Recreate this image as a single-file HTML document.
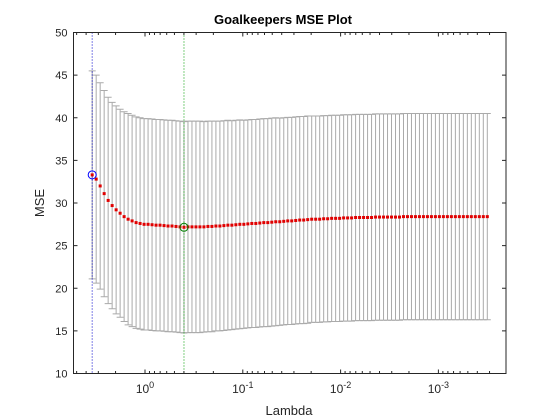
<!DOCTYPE html>
<html><head><meta charset="utf-8"><style>
body{margin:0;background:#fff}
svg{display:block;font-family:"Liberation Sans",sans-serif}
</style></head><body>
<svg id="chart" width="560" height="420" viewBox="0 0 560 420">
<rect x="0" y="0" width="560" height="420" fill="#fff"/>
<rect x="73.5" y="32.5" width="432.5" height="341" fill="#fff" stroke="none"/>
<g id="bars"></g>
<g id="vlines"></g>
<g id="pts"></g>
<g id="axes"></g>
<text x="283" y="24" text-anchor="middle" font-size="13" font-weight="bold" fill="#000">Goalkeepers MSE Plot</text>
<text x="289" y="415" text-anchor="middle" font-size="13" fill="#262626">Lambda</text>
<text x="44" y="203" text-anchor="middle" font-size="13" fill="#262626" transform="rotate(-90 44 203)">MSE</text>
</svg>
<script>
const lambdaMaxLog = 0.54;
const lambdaMinLog = -3.5;
const mse = [
33.3,32.8,32.0,31.1,30.3,29.7,29.2,28.8,28.4,28.1,
27.9,27.7,27.6,27.5,27.5,27.45,27.4,27.4,27.35,27.3,
27.3,27.25,27.2,27.15,27.2,27.2,27.2,27.2,27.2,27.25,
27.25,27.3,27.3,27.35,27.4,27.4,27.45,27.5,27.5,27.55,
27.6,27.6,27.65,27.7,27.7,27.75,27.8,27.8,27.85,27.9,
27.9,27.95,28.0,28.0,28.05,28.1,28.1,28.1,28.15,28.15,
28.2,28.2,28.2,28.25,28.25,28.25,28.3,28.3,28.3,28.3,
28.3,28.35,28.35,28.35,28.35,28.35,28.35,28.35,28.4,28.4,
28.4,28.4,28.4,28.4,28.4,28.4,28.4,28.4,28.4,28.4,
28.4,28.4,28.4,28.4,28.4,28.4,28.4,28.4,28.4,28.4];
const se = [
12.2,12.2,12.1,12.1,12.1,12.1,12.2,12.2,12.3,12.4,
12.4,12.4,12.4,12.4,12.4,12.4,12.4,12.4,12.4,12.4,
12.4,12.4,12.4,12.4,12.4,12.4,12.4,12.4,12.35,12.35,
12.35,12.3,12.3,12.3,12.3,12.25,12.25,12.25,12.2,12.2,
12.2,12.2,12.2,12.2,12.2,12.2,12.2,12.15,12.15,12.15,
12.15,12.15,12.15,12.15,12.15,12.1,12.1,12.1,12.1,12.1,
12.1,12.1,12.1,12.1,12.1,12.1,12.1,12.1,12.1,12.1,
12.1,12.1,12.1,12.1,12.1,12.1,12.1,12.1,12.1,12.1,
12.1,12.1,12.1,12.1,12.1,12.1,12.1,12.1,12.1,12.1,
12.1,12.1,12.1,12.1,12.1,12.1,12.1,12.1,12.1,12.1];
const yTicks = [10,15,20,25,30,35,40,45,50];
const xTickExps = [0,-1,-2,-3];
const xTickLabels = ["0","-1","-2","-3"];

const NS="http://www.w3.org/2000/svg";
const L=73.5,R=506,T=32.5,B=373.5;
const ys=v=>B-(v-10)*(B-T)/40;
const xs=lg=>145-lg*97.8;
const n=mse.length;
const lgAt=i=>lambdaMaxLog-(lambdaMaxLog-lambdaMinLog)*i/(n-1);
function mk(tag,attrs,parent){const e=document.createElementNS(NS,tag);for(const k in attrs)e.setAttribute(k,attrs[k]);parent.appendChild(e);return e;}
const bars=document.getElementById('bars'),pts=document.getElementById('pts'),axes=document.getElementById('axes'),vl=document.getElementById('vlines');
let minI=0;for(let i=0;i<n;i++)if(mse[i]<mse[minI])minI=i;
for(let i=0;i<n;i++){
  const x=xs(lgAt(i)),y1=ys(mse[i]+se[i]),y2=ys(mse[i]-se[i]);
  const p=mk('path',{d:`M${x},${y1}V${y2}M${x-3.5},${y1}H${x+3.5}M${x-3.5},${y2}H${x+3.5}`,stroke:'#aaaaaa','stroke-width':1,fill:'none'},bars);
  
  
}
const bl=mk('line',{x1:xs(lgAt(0)),x2:xs(lgAt(0)),y1:T,y2:B,stroke:'#0000cc','stroke-width':1,'stroke-dasharray':'1,2'},vl);


const gl=mk('line',{x1:xs(lgAt(minI)),x2:xs(lgAt(minI)),y1:T,y2:B,stroke:'#00a000','stroke-width':1,'stroke-dasharray':'1,2'},vl);


for(let i=0;i<n;i++){
  const r=mk('rect',{x:xs(lgAt(i))-1.5,y:ys(mse[i])-1.5,width:3,height:3,fill:'#e00000'},pts);
  
  
}
const c1=mk('circle',{cx:xs(lgAt(0)),cy:ys(mse[0]),r:4,fill:'none',stroke:'#0000ff','stroke-width':1},pts);


const c2=mk('circle',{cx:xs(lgAt(minI)),cy:ys(mse[minI]),r:4,fill:'none',stroke:'#008000','stroke-width':1},pts);


const box=mk('rect',{x:L,y:T,width:R-L,height:B-T,fill:'none',stroke:'#262626','stroke-width':1},axes);


yTicks.forEach(v=>{
  const y=ys(v);
  const t=mk('path',{d:`M${L},${y}h4M${R},${y}h-4`,stroke:'#262626'},axes);
  
  
  const tx=mk('text',{x:L-6,y:y+4,'text-anchor':'end','font-size':11,fill:'#262626'},axes);
  tx.textContent=v;
  
  
});
for(let d=1;d>=-4;d--){
  for(let m=1;m<10;m++){
    const lg=d+Math.log10(m);const x=xs(lg);
    if(x<L||x>R)continue;
    const len=m===1?4:2.5;
    const t=mk('path',{d:`M${x},${B}v-${len}M${x},${T}v${len}`,stroke:'#262626'},axes);
    
    
  }
}
xTickExps.forEach((e,i)=>{
  const x=xs(e);
  const tx=mk('text',{x:x,y:393,'text-anchor':'middle','font-size':12,fill:'#262626'},axes);
  
  
  const a=document.createElementNS(NS,'tspan');a.textContent='10';tx.appendChild(a);
  const b=document.createElementNS(NS,'tspan');b.setAttribute('dy','-5');b.setAttribute('font-size','9');b.textContent=xTickLabels[i];tx.appendChild(b);
});
</script>
</body></html>
